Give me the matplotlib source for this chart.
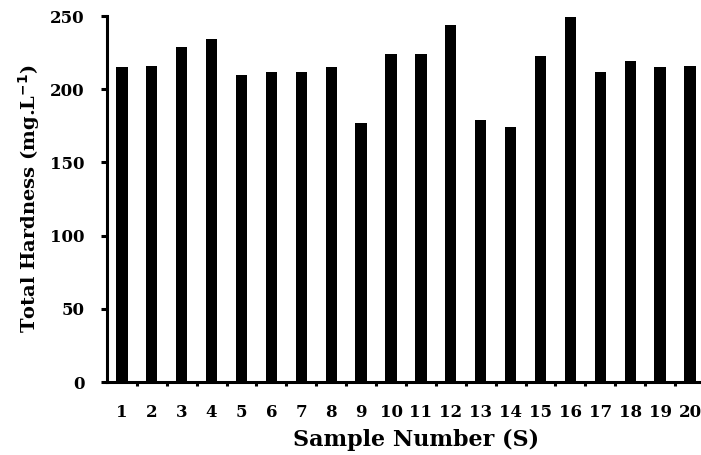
import matplotlib.pyplot as plt
import numpy as np

# sample numbers and total hardness values (mg/L)
samples = list(range(1, 21))
hardness = [215, 216, 229, 234, 210, 212, 212, 215, 177, 224,
            224, 244, 179, 174, 223, 249, 212, 219, 215, 216]
yticks = [0, 50, 100, 150, 200, 250]

plt.rcParams['font.family'] = ['DejaVu Serif']
plt.rcParams['font.weight'] = 'bold'

fig = plt.figure(figsize=(7.01, 4.55), dpi=100)
ax = fig.add_axes([0.1526, 0.1604, 0.853, 0.8044])

x = np.array(samples)
ax.bar(x, hardness, width=0.38, color='black')

ax.set_xlim(0.5, 20.5)
ax.set_ylim(0, 250)
ax.set_yticks(yticks)
ax.set_xticks(x)
ax.set_xticklabels([str(s) for s in samples])
ax.set_xticks(np.arange(1.5, 20.5, 1), minor=True)

for side in ['top', 'right']:
    ax.spines[side].set_visible(False)
ax.spines['left'].set_linewidth(2.2)
ax.spines['bottom'].set_linewidth(2.2)

ax.tick_params(axis='y', direction='out', length=4, width=2.2, labelsize=12, pad=12)
ax.tick_params(axis='x', which='major', length=0, labelsize=12, pad=16)
ax.tick_params(axis='x', which='minor', direction='out', length=3, width=2.2)

ax.set_xlabel('Sample Number (S)', fontsize=16, fontweight='bold')
ax.xaxis.set_label_coords(0.517, -0.128)
ax.set_ylabel('Total Hardness (mg.L$^{\\mathbf{-1}}$)', fontsize=14, fontweight='bold', labelpad=6)

fig.savefig('out.png', dpi=100)
